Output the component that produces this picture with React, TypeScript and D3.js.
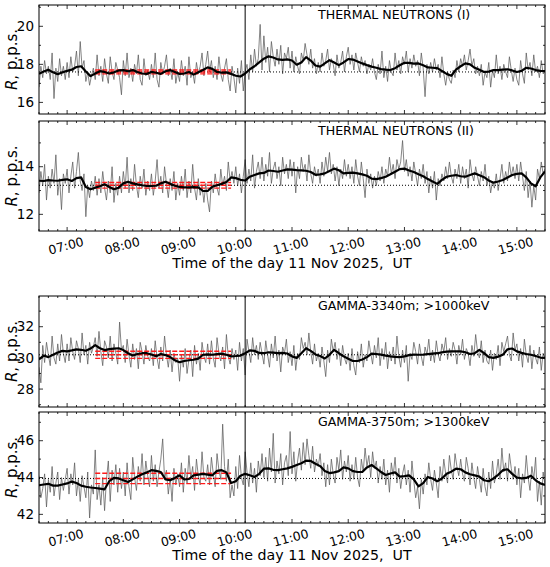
import React from "react";
import * as d3 from "d3";

const W = 550;
const H = 567;
const FONT = "DejaVu Sans, sans-serif";

const day = (h: number, m: number) => new Date(Date.UTC(2025, 10, 11, h, m));
const tStart = day(6, 30);
const tEnd = day(15, 30);
const tEvent = day(10, 10);
const refStart = day(7, 30);
const refEnd = day(9, 55);
const RAW_STEP_MIN = 2;
const SMOOTH_STEP_MIN = 5;

const titles = [
  "THERMAL NEUTRONS (I)",
  "THERMAL NEUTRONS (II)",
  "GAMMA-3340m; >1000keV",
  "GAMMA-3750m; >1300keV",
];
const yDomains: [number, number][] = [
  [15.39, 21.12],
  [11.3, 15.92],
  [26.85, 33.97],
  [41.53, 47.56],
];
const yTickLabels = [
  [16, 18, 20],
  [12, 14],
  [28, 30, 32],
  [42, 44, 46],
];
const refMean = [17.6, 13.22, 30.2, 43.95];
const refSigma = [0.1, 0.12, 0.23, 0.28];

// raw counts, 2-min steps from 06:30 (one row = 30 min)
const raw1 = [
  16.8, 17.9, 17.3, 18.2, 17.5, 17.9, 17.2, 18.6, 16.2, 17.8, 17.1, 18.3, 17.4, 17.9, 17.2,
  18.1, 17.3, 18.4, 17.6, 17.9, 18.7, 17.4, 19.2, 17.8, 18.2, 17.1, 17.6, 16.9, 17.4, 17.8,
  17.2, 18.5, 17.4, 17.9, 17.1, 18.3, 17.5, 17.0, 18.4, 17.6, 17.2, 18.1, 17.7, 17.3, 16.4,
  18.2, 17.4, 18.6, 17.3, 17.8, 17.1, 18.0, 17.5, 18.5, 17.2, 16.9, 18.3, 17.4, 17.7, 17.2,
  18.0, 17.3, 18.6, 17.2, 16.8, 18.1, 17.5, 17.9, 18.5, 17.4, 17.8, 17.2, 18.3, 17.0, 17.6,
  17.1, 18.2, 17.4, 17.9, 16.9, 18.4, 17.3, 17.6, 17.0, 18.1, 17.5, 17.9, 18.6, 17.4, 18.0,
  18.7, 17.6, 18.2, 17.3, 17.9, 17.2, 18.4, 17.5, 17.1, 17.8, 18.3, 17.2, 16.6, 17.9, 17.3,
  16.5, 17.8, 17.0, 18.2, 16.6, 17.6, 18.0, 17.2, 18.5, 17.6, 18.8, 17.9, 18.3, 20.1, 17.7,
  19.5, 18.1, 18.9, 17.6, 19.2, 18.4, 17.9, 18.8, 18.0, 19.0, 17.5, 18.6, 18.3, 18.9, 17.8,
  18.7, 17.6, 18.4, 17.9, 17.5, 18.6, 18.2, 19.1, 18.5, 18.0, 18.8, 17.8, 18.3, 17.5, 18.1,
  17.6, 18.6, 17.9, 18.2, 18.8, 17.7, 18.3, 18.0, 17.4, 18.5, 17.8, 18.1, 18.7, 17.6, 18.4,
  18.9, 18.0, 18.5, 17.7, 18.6, 18.1, 17.6, 18.4, 17.9, 18.2, 17.5, 18.0, 17.7, 18.3, 17.6,
  17.2, 18.0, 17.5, 18.7, 17.3, 17.9, 17.1, 18.2, 17.6, 17.4, 18.6, 17.7, 18.2, 17.5, 18.4,
  18.0, 18.7, 17.6, 18.3, 17.8, 18.5, 17.9, 18.2, 17.4, 18.6, 17.8, 16.3, 18.0, 17.5, 18.1,
  17.6, 18.3, 17.7, 18.0, 17.3, 18.4, 17.5, 16.9, 17.6, 17.2, 17.0, 17.7, 17.3, 18.2, 17.6,
  18.3, 17.9, 18.5, 17.7, 18.2, 18.8, 17.9, 18.3, 17.5, 17.9, 17.4, 18.0, 16.9, 17.6, 17.3,
  18.1, 16.8, 17.7, 17.3, 18.5, 17.5, 17.9, 17.2, 18.0, 17.6, 17.3, 18.4, 17.7, 17.1, 17.8,
  17.2, 16.9, 18.2, 17.5, 17.0, 18.6, 17.7, 18.1, 17.4, 18.5, 17.6, 17.9, 17.3, 18.2, 17.5,
  17.6,
];
const raw2 = [
  12.9, 13.8, 13.2, 14.1, 12.6, 13.6, 13.1, 13.9, 13.3, 14.5, 12.8, 13.5, 12.2, 13.7, 13.3,
  13.9, 12.9, 13.6, 14.2, 13.1, 13.8, 14.6, 13.4, 13.0, 13.7, 11.9, 13.2, 12.7, 13.4, 13.0,
  13.6, 12.8, 13.5, 12.9, 13.8, 13.1, 12.6, 13.4, 12.9, 14.0, 12.5, 13.3, 12.8, 13.6, 12.9,
  13.8, 13.1, 14.4, 12.9, 13.5, 13.0, 14.1, 13.2, 12.7, 13.6, 13.1, 13.9, 12.8, 13.4, 13.0,
  13.7, 12.8, 13.4, 14.3, 13.1, 13.6, 12.9, 14.0, 13.3, 12.7, 13.5, 13.0, 13.8, 12.6, 13.3,
  12.8, 13.6, 13.0, 13.9, 12.7, 13.4, 12.9, 14.1, 13.1, 12.6, 13.5, 12.8, 13.2, 12.5, 13.3,
  12.6, 12.1, 13.4, 12.9, 13.7, 13.1, 12.8, 13.9, 13.2, 13.6, 13.0, 14.2, 13.4, 13.8, 13.3,
  14.0, 13.2, 13.7, 12.9, 13.6, 14.3, 13.3, 13.9, 13.4, 14.5, 13.1, 13.8, 14.2, 13.5, 14.4,
  13.4, 14.1, 13.6, 14.6, 13.3, 13.9, 14.2, 13.5, 14.0, 13.2, 14.4, 13.7, 14.1, 13.5, 14.3,
  13.6, 14.2, 12.9, 14.0, 13.5, 14.4, 13.8, 14.1, 13.4, 14.5, 13.7, 13.3, 14.0, 13.6, 13.9,
  13.3, 14.2, 13.6, 14.4, 13.8, 14.6, 13.7, 14.1, 13.4, 14.0, 13.2, 13.9, 13.5, 14.3, 13.6,
  14.1, 13.5, 14.0, 13.3, 14.3, 13.6, 13.2, 14.2, 13.5, 12.7, 13.9, 13.3, 13.7, 13.1, 13.6,
  13.2, 13.8, 13.4, 14.0, 13.3, 13.9, 13.6, 14.4, 13.7, 14.1, 13.5, 14.3, 13.9, 14.2, 15.1,
  13.8, 14.3, 13.6, 14.0, 13.4, 14.2, 13.7, 13.2, 13.9, 13.5, 14.1, 13.3, 13.8, 12.9, 13.6,
  13.1, 13.8, 12.6, 13.5, 13.2, 13.7, 13.4, 14.0, 13.5, 14.2, 13.6, 13.3, 13.9, 13.5, 14.1,
  13.3, 14.0, 13.5, 13.9, 13.1, 14.3, 13.7, 13.4, 14.0, 13.6, 13.2, 13.8, 13.4, 14.1, 13.2,
  13.6, 12.9, 13.4, 13.1, 13.7, 13.0, 13.5, 14.1, 13.3, 13.8, 13.4, 14.2, 13.6, 14.0, 13.5,
  14.1, 13.4, 14.2, 13.6, 13.0, 13.8, 12.7, 13.4, 12.3, 13.2, 12.6, 13.9, 13.5, 14.2, 13.7,
  13.9,
];
const raw3 = [
  29.4, 28.4, 30.8, 29.7, 31.0, 30.2, 29.5, 31.4, 30.0, 29.6, 30.9, 29.8, 31.5, 30.3, 29.7,
  30.9, 29.8, 31.3, 30.4, 29.9, 31.1, 30.6, 29.7, 31.6, 30.2, 30.8, 29.6, 31.0, 30.3, 30.7,
  31.3, 30.1, 31.7, 30.4, 29.5, 31.1, 30.7, 30.0, 31.4, 29.8, 30.9, 30.3, 29.6, 32.3, 30.5,
  30.8, 29.7, 31.2, 30.2, 29.4, 30.9, 29.9, 30.6, 29.3, 31.0, 30.4, 29.6, 30.8, 30.1, 29.8,
  30.6, 29.5, 31.1, 30.0, 29.3, 30.7, 29.8, 31.4, 30.2, 29.4, 30.5, 29.1, 30.3, 29.7, 30.0,
  28.5, 30.2, 29.4, 30.6, 29.0, 29.9, 30.5, 28.8, 30.8, 29.6, 30.3, 29.2, 31.0, 30.1, 29.7,
  30.9, 29.6, 31.1, 30.0, 29.4, 31.3, 30.3, 29.8, 30.7, 29.3, 31.5, 30.1, 29.6, 30.6, 29.9,
  30.5, 29.2, 31.0, 29.8, 30.6, 28.9, 31.2, 30.4, 29.7, 31.3, 30.2, 30.8, 29.9, 31.0, 30.3,
  29.6, 31.1, 30.2, 29.4, 30.9, 30.0, 31.4, 29.8, 30.5, 29.1, 30.7, 30.3, 31.2, 29.7, 30.4,
  29.5, 30.8, 29.2, 30.3, 29.9, 31.3, 30.6, 31.0, 30.2, 31.6, 30.4, 29.6, 30.9, 29.8, 30.3,
  29.4, 30.7, 29.8, 28.8, 30.5, 29.7, 31.2, 30.4, 31.0, 29.9, 30.6, 29.5, 30.8, 30.0, 29.6,
  30.3, 29.2, 30.6, 29.5, 28.9, 30.4, 29.7, 30.9, 29.4, 30.2, 29.8, 31.1, 30.3, 29.6, 30.8,
  30.0, 31.3, 29.5, 30.6, 29.9, 31.0, 29.3, 30.4, 29.8, 30.7, 29.6, 31.4, 30.1, 29.4, 30.5,
  29.7, 30.8, 28.5, 30.3, 29.9, 31.0, 30.4, 29.6, 30.9, 30.1, 29.5, 30.7, 30.2, 31.2, 29.8,
  30.5, 29.7, 31.1, 30.2, 29.8, 30.9, 30.4, 31.3, 29.9, 30.6, 30.1, 31.0, 30.5, 29.6, 30.8,
  30.2, 31.2, 29.9, 30.6, 30.3, 29.5, 30.8, 30.1, 31.5, 30.4, 30.0, 31.1, 29.7, 30.5, 29.8,
  29.6, 30.5, 29.2, 30.3, 29.9, 30.8, 29.5, 31.0, 30.4, 30.9, 31.4, 30.2, 29.8, 31.6, 30.5,
  30.9, 29.8, 30.6, 29.4, 31.2, 30.2, 29.7, 30.8, 29.3, 30.5, 30.0, 29.6, 30.7, 29.2, 30.3,
  29.9,
];
const raw4 = [
  44.1, 42.9, 43.4, 44.2, 42.4, 43.9, 43.2, 44.6, 43.0, 43.7, 44.3, 42.8, 44.0, 43.3, 43.9,
  44.5, 43.1, 44.2, 43.6, 44.8, 43.0, 43.9, 42.7, 44.1, 43.5, 42.9, 44.3, 41.8, 43.6, 43.1,
  45.5, 42.8, 43.6, 42.5, 44.0, 42.2, 43.9, 44.9, 42.7, 44.4, 43.6, 44.7, 43.2, 44.5, 43.4,
  44.3, 43.0, 44.8, 43.5, 42.8, 45.1, 44.0, 43.3, 44.6, 43.8, 45.3, 43.6, 44.9, 44.1, 43.5,
  45.2, 43.8, 44.7, 43.5, 44.3, 45.0, 46.1, 43.9, 44.4, 43.1, 44.0, 42.7, 44.5, 43.6, 44.2,
  43.5, 44.8, 43.2, 44.5, 43.7, 45.2, 43.9, 44.6, 43.3, 45.0, 44.1, 43.6, 45.4, 44.0, 43.8,
  44.7, 43.6, 45.1, 44.2, 43.5, 45.3, 44.4, 43.9, 46.9, 44.6, 43.8, 45.0, 42.9, 43.6, 43.0,
  44.6, 43.4, 45.2, 44.0, 43.6, 45.4, 44.3, 43.5, 44.8, 43.7, 44.5, 43.2, 44.9, 44.1, 45.3,
  44.0, 45.1, 43.8, 45.6, 44.3, 46.4, 43.7, 44.9, 44.2, 45.3, 43.6, 44.8, 45.2, 44.1, 46.5,
  44.2, 45.4, 43.8, 44.9, 45.6, 44.4, 45.9, 44.7, 46.1, 45.2, 44.5, 45.7, 44.3, 45.0, 44.6,
  45.3, 44.1, 44.8, 43.5, 44.7, 43.6, 45.0, 44.2, 43.7, 45.1, 44.4, 45.5, 43.9, 44.9, 44.3,
  45.2, 43.8, 44.7, 43.9, 45.1, 44.0, 43.5, 45.0, 44.3, 45.6, 44.6, 45.2, 44.0, 45.4, 44.5,
  44.9, 43.7, 44.6, 43.9, 45.0, 43.6, 44.4, 43.2, 44.8, 44.1, 45.1, 43.7, 44.5, 43.4, 44.2,
  44.7, 43.6, 44.4, 43.2, 44.9, 43.8, 42.9, 43.5, 42.3, 43.9, 43.1, 44.2, 43.6, 44.8, 43.9,
  43.3, 44.4, 43.7, 42.9, 44.6, 43.8, 45.0, 44.2, 43.7, 45.2, 44.4, 43.9, 45.3, 44.6, 44.1,
  45.0, 44.2, 43.8, 45.1, 44.5, 43.6, 44.8, 44.0, 43.4, 44.6, 43.9, 43.2, 44.5, 43.5, 43.0,
  44.3, 43.4, 44.9, 43.7, 44.2, 45.0, 43.9, 45.6, 44.3, 44.8, 43.8, 45.3, 44.5, 43.9, 44.6,
  43.6, 44.5, 42.9, 44.2, 43.7, 45.2, 44.0, 43.3, 44.6, 43.9, 45.1, 42.7, 43.8, 42.5, 44.3,
  43.6,
];

// running mean, 5-min steps from 06:30 (one row = 1 hour)
const smooth1 = [
  17.5, 17.62, 17.72, 17.58, 17.48, 17.58, 17.66, 17.72, 17.86, 17.9, 17.62, 17.38,
  17.52, 17.64, 17.6, 17.52, 17.58, 17.68, 17.7, 17.64, 17.7, 17.6, 17.52, 17.5,
  17.6, 17.56, 17.5, 17.64, 17.7, 17.6, 17.5, 17.52, 17.6, 17.46, 17.58, 17.7,
  17.84, 17.76, 17.6, 17.56, 17.58, 17.5, 17.4, 17.36, 17.52, 17.74, 17.9, 18.1,
  18.3, 18.42, 18.36, 18.26, 18.24, 18.26, 18.2, 17.98, 18.1, 18.38, 18.2, 17.94,
  17.88, 18.05, 18.22, 18.1, 17.96, 18.1, 18.28, 18.25, 18.15, 18.05, 17.96, 17.88,
  17.82, 17.75, 17.72, 17.7, 17.8, 17.95, 18.08, 18.08, 18.04, 18.05, 17.95, 17.84,
  17.82, 17.8, 17.65, 17.5, 17.4, 17.72, 17.9, 18.05, 18.0, 17.82, 17.72, 17.6,
  17.62, 17.7, 17.7, 17.72, 17.74, 17.68, 17.6, 17.66, 17.82, 17.78, 17.7, 17.66,
  17.65,
];
const smooth2 = [
  13.41, 13.4, 13.44, 13.42, 13.41, 13.45, 13.47, 13.4, 13.52, 13.55, 13.15, 13.05,
  13.12, 13.18, 13.26, 13.15, 13.05, 13.12, 13.3, 13.37, 13.3, 13.26, 13.22, 13.19,
  13.19, 13.2, 13.3, 13.37, 13.28, 13.2, 13.15, 13.13, 13.13, 13.14, 13.13, 12.98,
  12.98, 13.16, 13.22, 13.28, 13.36, 13.55, 13.52, 13.45, 13.42, 13.58, 13.65, 13.72,
  13.74, 13.84, 13.82, 13.79, 13.84, 13.89, 13.88, 13.86, 13.85, 13.83, 13.78, 13.66,
  13.68, 13.72, 13.82, 13.92, 13.85, 13.72, 13.74, 13.75, 13.72, 13.68, 13.62, 13.5,
  13.48, 13.52, 13.58, 13.68, 13.79, 13.9, 13.92, 13.84, 13.78, 13.68, 13.6, 13.48,
  13.38, 13.28, 13.45, 13.58, 13.62, 13.65, 13.6, 13.58, 13.65, 13.72, 13.64, 13.56,
  13.42, 13.33, 13.38, 13.44, 13.55, 13.65, 13.7, 13.72, 13.55, 13.3, 13.18, 13.55,
  13.8,
];
const smooth3 = [
  29.9, 30.15, 30.05, 30.2, 30.35, 30.45, 30.42, 30.48, 30.55, 30.52, 30.46, 30.6,
  30.82, 30.62, 30.5, 30.56, 30.6, 30.62, 30.5, 30.3, 30.15, 30.25, 30.3, 30.3,
  30.22, 30.1, 30.25, 30.18, 30.05, 29.85, 29.72, 29.8, 29.85, 29.88, 29.95, 30.2,
  30.22, 30.2, 30.24, 30.27, 30.2, 30.1, 30.12, 30.15, 30.3, 30.48, 30.45, 30.32,
  30.3, 30.36, 30.34, 30.3, 30.32, 30.28, 30.1, 30.0, 30.3, 30.62, 30.45, 30.22,
  30.12, 29.96, 30.2, 30.52, 30.3, 30.1, 29.95, 29.8, 29.8, 29.9, 30.05, 30.27,
  30.25, 30.21, 30.15, 30.1, 30.06, 30.05, 30.1, 30.18, 30.21, 30.2, 30.21, 30.24,
  30.27, 30.3, 30.35, 30.4, 30.42, 30.42, 30.42, 30.36, 30.25, 30.3, 30.52, 30.3,
  30.05, 30.0, 30.08, 30.2, 30.55, 30.6, 30.42, 30.32, 30.25, 30.2, 30.12, 30.02,
  30.0,
];
const smooth4 = [
  43.58, 43.62, 43.66, 43.56, 43.56, 43.62, 43.68, 43.78, 43.7, 43.56, 43.5, 43.46,
  43.43, 43.4, 43.36, 43.8, 43.98, 43.95, 43.85, 43.76, 43.9, 44.05, 44.18, 44.28,
  44.4, 44.36, 44.3, 43.9, 43.85, 43.98, 44.12, 43.9, 43.92, 44.12, 44.16, 44.2,
  44.16, 44.12, 44.36, 44.4, 44.28, 43.7, 43.8, 44.1, 44.2, 44.12, 44.03, 44.2,
  44.48, 44.5, 44.42, 44.4, 44.45, 44.5, 44.58, 44.68, 44.78, 44.92, 44.9, 44.75,
  44.62, 44.35, 44.24, 44.28, 44.35, 44.55, 44.5, 44.35, 44.3, 44.3, 44.55, 44.68,
  44.5, 44.3, 44.14, 44.22, 44.28, 44.05, 44.08, 44.12, 43.9, 43.52, 43.7, 44.03,
  43.95, 43.8, 43.95, 44.2, 44.32, 44.48, 44.45, 44.28, 44.18, 44.12, 44.05, 43.85,
  43.8, 43.95, 44.15, 44.4, 44.45, 44.2, 44.0, 43.95, 43.98, 44.1, 43.85, 43.68,
  43.6,
];

const rawSeries = [raw1, raw2, raw3, raw4];
const smoothSeries = [smooth1, smooth2, smooth3, smooth4];

const LEFT = 39;
const RIGHT = 545;
const panelTops = [5, 121, 296, 412];
const panelHeights = [109, 110, 111, 111];
const withTimeAxis = [false, true, false, true];

const x = d3.scaleUtc().domain([tStart, tEnd]).range([LEFT, RIGHT]);
const hourTicks = x.ticks(d3.utcHour.every(1)!).filter((d) => d > tStart && d < tEnd);
const minorTicks = x.ticks(d3.utcMinute.every(10)!);
const fmt = d3.utcFormat("%H:%M");

const at = (i: number, step: number) => d3.utcMinute.offset(tStart, i * step);

function Panel({ idx }: { idx: number }) {
  const top = panelTops[idx];
  const bottom = top + panelHeights[idx];
  const y = d3.scaleLinear().domain(yDomains[idx]).range([bottom, top]);
  const [lo, hi] = yDomains[idx];
  const unitTicks = d3.range(Math.ceil(lo), Math.floor(hi) + 1);
  const clipId = `clip-${idx}`;

  const rawLine = d3
    .line<number>()
    .x((_, i) => x(at(i, RAW_STEP_MIN)))
    .y((d) => y(d));
  const smoothLine = d3
    .line<number>()
    .x((_, i) => x(at(i, SMOOTH_STEP_MIN)))
    .y((d) => y(d));

  const m = refMean[idx];
  const s = refSigma[idx];
  const xe = x(tEvent);

  return (
    <g>
      <defs>
        <clipPath id={clipId}>
          <rect x={LEFT} y={top} width={RIGHT - LEFT} height={bottom - top} />
        </clipPath>
      </defs>
      <g clipPath={`url(#${clipId})`}>
        <path d={rawLine(rawSeries[idx]) ?? ""} fill="none" stroke="#5c5c5c" strokeWidth={0.75} />
        <line x1={LEFT} x2={RIGHT} y1={y(m)} y2={y(m)} stroke="#000" strokeWidth={1} strokeDasharray="1,2" />
        {[m + s, m, m - s].map((v, k) => (
          <line
            key={k}
            x1={x(refStart)}
            x2={x(refEnd)}
            y1={y(v)}
            y2={y(v)}
            stroke="#ff1a1a"
            strokeWidth={1.4}
            strokeDasharray="5,2"
          />
        ))}
        <path d={smoothLine(smoothSeries[idx]) ?? ""} fill="none" stroke="#000" strokeWidth={2.2} strokeLinejoin="round" />
      </g>
      <line x1={xe} x2={xe} y1={top} y2={bottom} stroke="#000" strokeWidth={1} />

      {/* ticks pointing inwards on every side */}
      {minorTicks.map((t, k) => {
        const major = hourTicks.some((h) => +h === +t);
        const len = major ? 4 : 2;
        const xx = x(t);
        return (
          <g key={"xt" + k} stroke="#000" strokeWidth={0.8}>
            <line x1={xx} x2={xx} y1={bottom} y2={bottom - len} />
            <line x1={xx} x2={xx} y1={top} y2={top + len} />
          </g>
        );
      })}
      {unitTicks.map((v) => {
        const major = yTickLabels[idx].includes(v);
        const len = major ? 4 : 2;
        const yy = y(v);
        return (
          <g key={"yt" + v} stroke="#000" strokeWidth={0.8}>
            <line x1={LEFT} x2={LEFT + len} y1={yy} y2={yy} />
            <line x1={RIGHT} x2={RIGHT - len} y1={yy} y2={yy} />
          </g>
        );
      })}
      <rect x={LEFT} y={top} width={RIGHT - LEFT} height={bottom - top} fill="none" stroke="#000" strokeWidth={1} />

      {yTickLabels[idx].map((v) => (
        <text key={"yl" + v} x={LEFT - 5} y={y(v)} dy="0.35em" textAnchor="end" fontSize={13.5} fontFamily={FONT}>
          {v}
        </text>
      ))}
      <text
        transform={`translate(17,${(top + bottom) / 2}) rotate(-90)`}
        textAnchor="middle"
        fontSize={15}
        fontFamily={FONT}
      >
        <tspan fontStyle="italic">R</tspan>, p.p.s.
      </text>
      <text x={318} y={top + 14} fontSize={12.6} fontFamily={FONT}>
        {titles[idx]}
      </text>

      {withTimeAxis[idx] && (
        <g>
          {hourTicks.map((t, k) => (
            <text
              key={"xl" + k}
              transform={`translate(${x(t)},${bottom + 19}) rotate(-15)`}
              textAnchor="middle"
              fontSize={12.5}
              fontFamily={FONT}
            >
              {fmt(t)}
            </text>
          ))}
          <text
            x={(LEFT + RIGHT) / 2}
            y={bottom + 37}
            textAnchor="middle"
            fontSize={14.2}
            fontFamily={FONT}
            style={{ whiteSpace: "pre" }}
          >
            {"Time of the day 11 Nov 2025,  UT"}
          </text>
        </g>
      )}
    </g>
  );
}

export default function App() {
  return (
    <svg
      width={W}
      height={H}
      viewBox={`0 0 ${W} ${H}`}
      style={{ position: "absolute", left: 0, top: 0, background: "#fff" }}
    >
      <rect width={W} height={H} fill="#fff" />
      {[0, 1, 2, 3].map((i) => (
        <Panel key={i} idx={i} />
      ))}
    </svg>
  );
}
